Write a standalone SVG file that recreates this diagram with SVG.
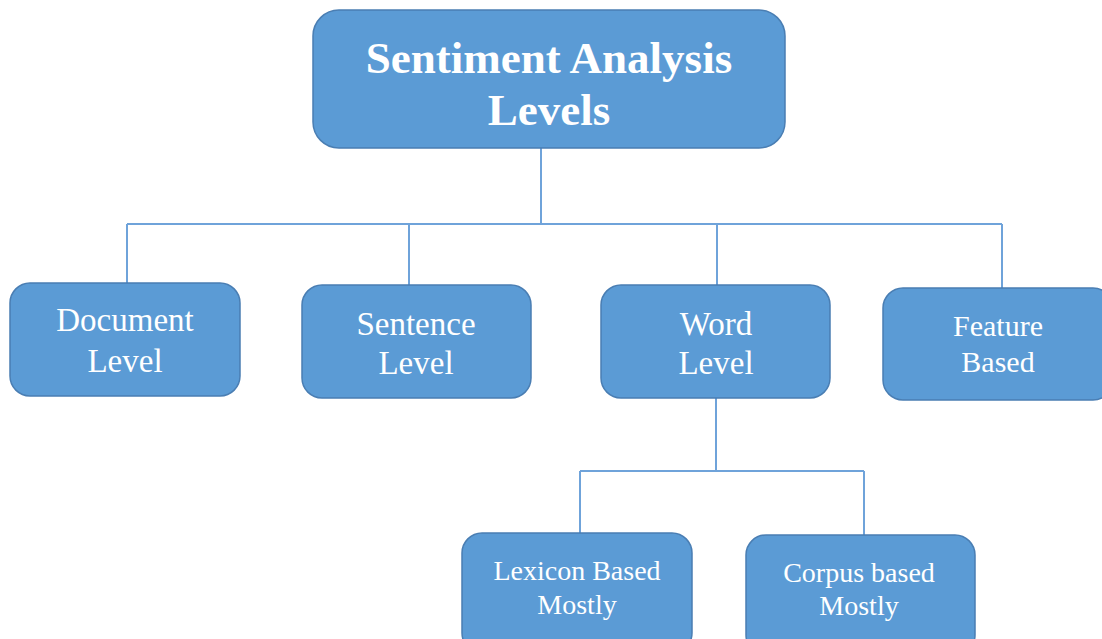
<svg xmlns="http://www.w3.org/2000/svg" width="1102" height="639" viewBox="0 0 1102 639">
<style>
.box{fill:#5B9BD5;stroke:#4A7EB3;stroke-width:1.5}
.ln{fill:none;stroke:#6FA3DA;stroke-width:2}
.t{font-family:"Liberation Serif","Times New Roman",serif;fill:#fff;text-anchor:middle}
.title{font-size:45px;font-weight:bold}
.n{font-size:33px}
.s{font-size:30px}
.x{font-size:28px}
</style>
<rect width="1102" height="639" fill="#fff"/>
<g id="connectors">
<path class="ln" d="M541 148V224M127 224H1002M127 224V283M409 224V285M717 224V285M1002 224V288"/>
<path class="ln" d="M716 398V471M580 471H864M580 471V533M864 471V535"/>
</g>
<g id="root"><rect class="box" x="313" y="10" width="472" height="138" rx="26"/>
<text class="t title" x="549" y="73">Sentiment Analysis</text>
<text class="t title" x="549" y="125">Levels</text></g>
<g id="document"><rect class="box" x="10" y="283" width="230" height="113" rx="20"/>
<text class="t n" x="125" y="331">Document</text><text class="t n" x="125" y="372">Level</text></g>
<g id="sentence"><rect class="box" x="302" y="285" width="229" height="113" rx="20"/>
<text class="t n" x="416" y="335">Sentence</text><text class="t n" x="416" y="374">Level</text></g>
<g id="word"><rect class="box" x="601" y="285" width="229" height="113" rx="20"/>
<text class="t n" x="716" y="335">Word</text><text class="t n" x="716" y="374">Level</text></g>
<g id="feature"><rect class="box" x="883" y="288" width="230" height="112" rx="20"/>
<text class="t s" x="998" y="336">Feature</text><text class="t s" x="998" y="372">Based</text></g>
<g id="lexicon"><rect class="box" x="462" y="533" width="230" height="120" rx="20"/>
<text class="t x" x="577" y="580">Lexicon Based</text><text class="t x" x="577" y="614">Mostly</text></g>
<g id="corpus"><rect class="box" x="746" y="535" width="229" height="120" rx="20"/>
<text class="t x" x="859" y="582">Corpus based</text><text class="t x" x="859" y="615">Mostly</text></g>
</svg>
